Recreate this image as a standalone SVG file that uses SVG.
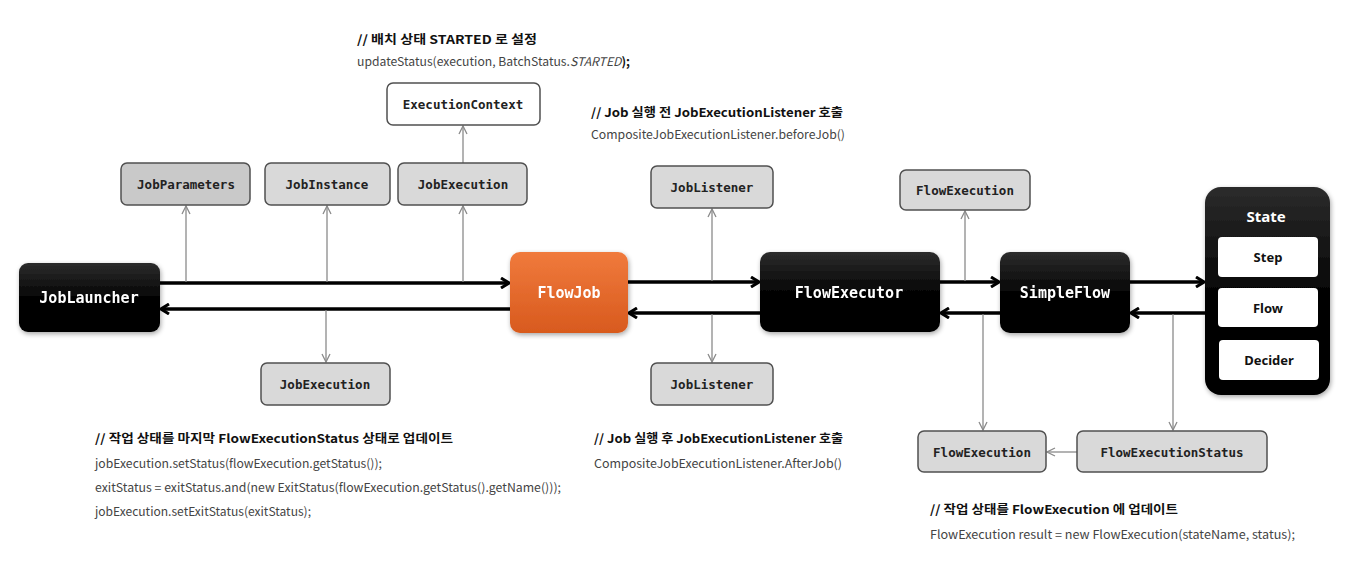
<svg xmlns="http://www.w3.org/2000/svg" width="1361" height="571" viewBox="0 0 1361 571">
<style>
.bg{fill:#ffffff}
.gray rect{fill:#d9d9d9;stroke:#505050;stroke-width:1.5}
.gray text{font-family:"DejaVu Sans Mono","Liberation Mono",monospace;font-weight:bold;font-size:12.5px;fill:#222;text-anchor:middle;dominant-baseline:central}
.dark rect{fill:url(#gDark)}
.dark text,.orange text{font-family:"DejaVu Sans Mono","Liberation Mono",monospace;font-weight:bold;font-size:15px;fill:#fff;text-anchor:middle;dominant-baseline:central}
.orange rect{fill:url(#gOrange)}
.inner rect{fill:#fff}
.inner text{font-family:"Noto Sans","Liberation Sans",sans-serif;font-weight:bold;font-size:13px;fill:#111;text-anchor:middle;dominant-baseline:central}
.thick{stroke:#000;stroke-width:3.5;fill:none;marker-end:url(#aBlack)}
.thin{stroke:#8a8a8a;stroke-width:1.3;fill:none;marker-end:url(#aGray)}
.note{font-family:"Noto Sans CJK KR","Noto Sans",sans-serif;font-size:12px}
.h{font-weight:bold;fill:#111}
.c{fill:#444}
</style>
<defs>
<linearGradient id="gDark" x1="0" y1="0" x2="0" y2="1"><stop offset="0" stop-color="#2c2c2c"/><stop offset="0.5" stop-color="#050505"/><stop offset="1" stop-color="#000"/></linearGradient>
<linearGradient id="gOrange" x1="0" y1="0" x2="0" y2="1"><stop offset="0" stop-color="#f07a3c"/><stop offset="1" stop-color="#d85a1e"/></linearGradient>
<filter id="sh" x="-10%" y="-10%" width="130%" height="130%"><feGaussianBlur in="SourceAlpha" stdDeviation="2.5"/><feOffset dx="1" dy="2" result="b"/><feComponentTransfer><feFuncA type="linear" slope="0.35"/></feComponentTransfer><feMerge><feMergeNode/><feMergeNode in="SourceGraphic"/></feMerge></filter>
<marker id="aBlack" viewBox="0 0 10 12" refX="9" refY="6" markerWidth="10" markerHeight="12" markerUnits="userSpaceOnUse" orient="auto"><path d="M1,1 L9,6 L1,11" fill="none" stroke="#000" stroke-width="3"/></marker>
<marker id="aGray" viewBox="0 0 10 10" refX="9" refY="5" markerWidth="10" markerHeight="10" markerUnits="userSpaceOnUse" orient="auto"><path d="M1,1 L9,5 L1,9" fill="none" stroke="#8a8a8a" stroke-width="1.3"/></marker>
</defs>
<rect class="bg" x="0" y="0" width="1361" height="571"/>

<g id="connectors">
<line class="thick" x1="160" y1="283" x2="509" y2="283"/>
<line class="thick" x1="510" y1="309" x2="161" y2="309"/>
<line class="thick" x1="628" y1="282" x2="759" y2="282"/>
<line class="thick" x1="760" y1="313" x2="629" y2="313"/>
<line class="thick" x1="940" y1="282" x2="999" y2="282"/>
<line class="thick" x1="1000" y1="313" x2="941" y2="313"/>
<line class="thick" x1="1130" y1="282" x2="1204" y2="282"/>
<line class="thick" x1="1205" y1="313" x2="1131" y2="313"/>
<line class="thin" x1="186" y1="282" x2="186" y2="206"/>
<line class="thin" x1="327" y1="282" x2="327" y2="206"/>
<line class="thin" x1="326" y1="310" x2="326" y2="362"/>
<line class="thin" x1="463" y1="282" x2="463" y2="206"/>
<line class="thin" x1="463" y1="163" x2="463" y2="126"/>
<line class="thin" x1="712" y1="281" x2="712" y2="209"/>
<line class="thin" x1="712" y1="314" x2="712" y2="362"/>
<line class="thin" x1="965" y1="281" x2="965" y2="211"/>
<line class="thin" x1="983" y1="314" x2="983" y2="430"/>
<line class="thin" x1="1173" y1="314" x2="1173" y2="430"/>
<line class="thin" x1="1077" y1="452" x2="1047" y2="452"/>
</g>

<g id="JobLauncher" class="dark" filter="url(#sh)"><rect x="19" y="263" width="141" height="69" rx="9"/><text x="89" y="298">JobLauncher</text></g>
<g id="FlowJob" class="orange" filter="url(#sh)"><rect x="510" y="252" width="118" height="81" rx="10"/><text x="569" y="293">FlowJob</text></g>
<g id="FlowExecutor" class="dark" filter="url(#sh)"><rect x="760" y="252" width="180" height="80" rx="10"/><text x="849" y="293">FlowExecutor</text></g>
<g id="SimpleFlow" class="dark" filter="url(#sh)"><rect x="1000" y="252" width="130" height="81" rx="10"/><text x="1065" y="293">SimpleFlow</text></g>
<g id="State">
<rect x="1205" y="187" width="125" height="208" rx="16" fill="url(#gDark)" filter="url(#sh)"/>
<text x="1266" y="216" font-family="Noto Sans,Liberation Sans,sans-serif" font-weight="bold" font-size="15" fill="#fff" text-anchor="middle" dominant-baseline="central">State</text>
<g id="Step" class="inner"><rect x="1218" y="237" width="100" height="40" rx="4"/><text x="1268" y="257">Step</text></g>
<g id="Flow" class="inner"><rect x="1218" y="288" width="100" height="39" rx="4"/><text x="1268" y="308">Flow</text></g>
<g id="Decider" class="inner"><rect x="1219" y="340" width="100" height="40" rx="4"/><text x="1269" y="360">Decider</text></g>
</g>

<g id="JobParameters" class="gray"><rect x="121" y="163" width="129" height="42" rx="6" style="fill:#c9c9c9"/><text x="186" y="184">JobParameters</text></g>
<g id="JobInstance" class="gray"><rect x="265" y="163" width="125" height="42" rx="6"/><text x="327" y="184">JobInstance</text></g>
<g id="JobExecutionTop" class="gray"><rect x="398" y="163" width="129" height="42" rx="6"/><text x="463" y="184">JobExecution</text></g>
<g id="ExecutionContext" class="gray"><rect x="387" y="83" width="153" height="42" rx="6" style="fill:#fff"/><text x="463" y="104">ExecutionContext</text></g>
<g id="JobExecutionBottom" class="gray"><rect x="261" y="363" width="129" height="42" rx="6"/><text x="325" y="384">JobExecution</text></g>
<g id="JobListenerTop" class="gray"><rect x="651" y="166" width="122" height="42" rx="6"/><text x="712" y="187">JobListener</text></g>
<g id="JobListenerBottom" class="gray"><rect x="651" y="363" width="122" height="42" rx="6"/><text x="712" y="384">JobListener</text></g>
<g id="FlowExecutionTop" class="gray"><rect x="900" y="170" width="130" height="40" rx="6"/><text x="965" y="190">FlowExecution</text></g>
<g id="FlowExecutionBottom" class="gray"><rect x="918" y="431" width="128" height="41" rx="6"/><text x="982" y="452">FlowExecution</text></g>
<g id="FlowExecutionStatus" class="gray"><rect x="1077" y="431" width="190" height="41" rx="6"/><text x="1172" y="452">FlowExecutionStatus</text></g>

<g id="notes" class="note">
<text class="h" x="357" y="44" textLength="180" lengthAdjust="spacingAndGlyphs">// 배치 상태 STARTED 로 설정</text>
<text class="c" x="357" y="66" textLength="273" lengthAdjust="spacingAndGlyphs">updateStatus(execution, BatchStatus.<tspan font-style="italic">STARTED</tspan><tspan font-weight="bold" fill="#111">);</tspan></text>
<text class="h" x="591" y="117" textLength="252" lengthAdjust="spacingAndGlyphs">// Job 실행 전 JobExecutionListener 호출</text>
<text class="c" x="591" y="139" textLength="254" lengthAdjust="spacingAndGlyphs">CompositeJobExecutionListener.beforeJob()</text>
<text class="h" x="95" y="443" textLength="358" lengthAdjust="spacingAndGlyphs">// 작업 상태를 마지막 FlowExecutionStatus 상태로 업데이트</text>
<text class="c" x="95" y="468" textLength="287" lengthAdjust="spacingAndGlyphs">jobExecution.setStatus(flowExecution.getStatus());</text>
<text class="c" x="95" y="492" textLength="466" lengthAdjust="spacingAndGlyphs">exitStatus = exitStatus.and(new ExitStatus(flowExecution.getStatus().getName()));</text>
<text class="c" x="95" y="516" textLength="216" lengthAdjust="spacingAndGlyphs">jobExecution.setExitStatus(exitStatus);</text>
<text class="h" x="594" y="443" textLength="249" lengthAdjust="spacingAndGlyphs">// Job 실행 후 JobExecutionListener 호출</text>
<text class="c" x="594" y="468" textLength="248" lengthAdjust="spacingAndGlyphs">CompositeJobExecutionListener.AfterJob()</text>
<text class="h" x="930" y="514" textLength="248" lengthAdjust="spacingAndGlyphs">// 작업 상태를 FlowExecution 에 업데이트</text>
<text class="c" x="930" y="539" textLength="365" lengthAdjust="spacingAndGlyphs">FlowExecution result = new FlowExecution(stateName, status);</text>
</g>
</svg>
